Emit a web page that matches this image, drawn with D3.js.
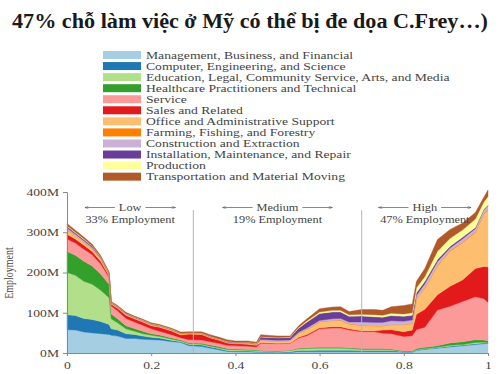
<!DOCTYPE html>
<html>
<head>
<meta charset="utf-8">
<script src="https://cdn.jsdelivr.net/npm/d3@7"></script>
<style>
  body { margin: 0; background: #fff; }
  svg { display: block; }
</style>
</head>
<body>
<script>
const width = 500
const height = 374

// probability of computerisation (x) and employment per group in millions
const xs = [0, 0.02, 0.04, 0.06, 0.08, 0.10, 0.105, 0.12, 0.14, 0.16, 0.18, 0.20, 0.22, 0.25, 0.27, 0.29,
  0.32, 0.34, 0.36, 0.38, 0.40, 0.43, 0.45, 0.46, 0.50, 0.53, 0.55, 0.57, 0.60, 0.63, 0.65, 0.67,
  0.70, 0.73, 0.75, 0.77, 0.80, 0.82, 0.83, 0.85, 0.88, 0.91, 0.94, 0.97, 0.99, 1.00]

const management = [58,57,52,50,48,46, 44,42,36,36,34,33,32,28,26,18, 16,12,8,4,3,3,2,2,1,1, 3,3,3,3,3,3,3,3,3,3, 2,2,6,9,12,15,18,21,23,24]
const computer = [37,36,34,33,30,25, 16,15,12,10,8,6,5,3,2,3, 4,3,3,2,2,2,2,1,1,2, 3,3,4,4,4,4,3,3,3,3, 1,1,1,1,1,2,2,2,2,1]
const education = [105,100,92,88,78,66, 25,18,12,8,6,5,4,3,2,2, 2,2,2,3,3,2,2,2,2,3, 4,5,5,5,5,4,3,3,3,2, 1,1,1,1,1,2,1,3,2,1]
const healthcare = [52,50,50,45,40,34, 12,10,8,7,6,4,4,3,2,2, 2,3,3,2,2,2,2,1,1,1, 2,2,2,2,2,2,2,2,2,2, 1,1,3,3,4,6,7,7,5,4]
const service = [31,30,30,28,25,17, 20,20,18,16,15,12,9,8,6,8, 8,8,8,8,8,8,7,18,18,17, 25,30,46,48,48,44,42,42,38,38, 36,38,47,50,89,91,100,107,103,96]
const sales = [12,10,10,8,7,4, 4,6,8,8,8,8,10,9,7,14, 14,10,8,6,5,5,4,2,1,1, 2,3,3,3,3,3,2,2,8,10, 12,14,38,45,38,50,54,70,80,88]
const office = [10,8,7,6,5,3, 2,2,2,2,2,2,2,2,2,1, 1,1,1,1,1,2,2,5,5,5, 10,12,14,15,16,12,13,12,10,12, 17,16,38,52,71,87,92,89,130,141]
const farming = [2,1,1,1,1,1, 0.5,0.5,0.5,0.5,0.5,0.5,0.5,0.5,0.5,0.5, 0.5,0.5,0.5,0.5,0.5,0.5,0.5,0.5,0.5,0.5, 0.5,1,1,1,1,1,1,1,1,1, 1,1,1,2,2,2,2,2,2,2]
const construction = [4,3,3,3,2,1, 1,1,1,1,1,1,1,1,1,1, 1,1,1,1,1,1,1,2,2,2, 2,3,3,4,4,4,8,8,8,9, 8,8,8,9,9,6,8,8,8,9]
const installation = [4,3,3,3,2,1, 1,1,1,1,1,1,1,1,1,0.5, 0.5,0.5,0.5,1,1,1,1,6,6,6, 10,15,17,17,16,14,15,14,13,13, 12,12,7,6,5,4,4,3,2,2]
const production = [2,2,2,1,1,1, 0.5,0.5,0.5,0.5,0.5,0.5,0.5,0.5,0.5,0.5, 0.5,0.5,0.5,0.5,0.5,0.5,0.5,1,1,1, 2,3,4,4,4,4,4,5,5,6, 6,6,12,12,21,20,18,21,18,21]
const transportation = [5,5,4,4,3,2, 2,2,2,2,2,2,2,2,2,2, 3,4,4,4,3,3,3,5,4,3, 4,5,8,8,9,8,12,13,12,16, 21,22,16,20,29,22,17,16,12,16]

const categories = [
  'Management, Business, and Financial',
  'Computer, Engineering, and Science',
  'Education, Legal, Community Service, Arts, and Media',
  'Healthcare Practitioners and Technical',
  'Service',
  'Sales and Related',
  'Office and Administrative Support',
  'Farming, Fishing, and Forestry',
  'Construction and Extraction',
  'Installation, Maintenance, and Repair',
  'Production',
  'Transportation and Material Moving'
]
const series = [management, computer, education, healthcare, service, sales, office,
  farming, construction, installation, production, transportation]
const colors = ['#a6cee3', '#1f78b4', '#b2df8a', '#33a02c', '#fb9a99', '#e31a1c',
  '#fdbf6f', '#ff7f00', '#cab2d6', '#6a3d9a', '#ffff99', '#b15928']

const zones = ['Low', 'Medium', 'High']
const shares = ['33% Employment', '19% Employment', '47% Employment']
const zoneCenters = [0.15, 0.5, 0.85]
const boundaries = [0.3, 0.7]
const xTicks = [0, 0.2, 0.4, 0.6, 0.8, 1]
const yTicks = [0, 100, 200, 300, 400]

const serif = '"Liberation Serif", "Times New Roman", serif'
const stretch = 1.3 // the picture is wider than tall, text looks stretched

const rows = xs.map((x, i) => {
  const r = { x: x }
  categories.forEach((c, j) => { r[c] = series[j][i] })
  return r
})

const x = d3.scaleLinear().domain([0, 1]).range([67, 488])
const y = d3.scaleLinear().domain([0, 400]).range([353, 192])
const color = d3.scaleOrdinal().domain(categories).range(colors)

const svg = d3.select('body').append('svg').attr('width', width).attr('height', height)

// title
svg.append('text')
  .attr('x', 250).attr('y', 28)
  .attr('text-anchor', 'middle')
  .attr('textLength', 476)
  .attr('lengthAdjust', 'spacingAndGlyphs')
  .style('font-family', serif)
  .style('font-weight', 'bold')
  .style('font-size', '22px')
  .style('fill', '#1a1a1a')
  .text('47% chỗ làm việc ở Mỹ có thể bị đe dọa C.Frey…)')

// legend
const legend = svg.append('g')
categories.forEach((c, i) => {
  const cy = 55 + i * 11.06
  legend.append('rect')
    .attr('x', 103).attr('y', cy - 4)
    .attr('width', 38).attr('height', 8)
    .attr('fill', color(c))
  legend.append('text')
    .attr('transform', `translate(146,${cy + 3.6}) scale(${stretch},1)`)
    .style('font-family', serif)
    .style('font-size', '10.5px')
    .style('fill', '#444')
    .text(c)
})

// stacked areas
const stack = d3.stack().keys(categories)
const layers = stack(rows)
const area = d3.area()
  .x(d => x(d.data.x))
  .y0(d => y(d[0]))
  .y1(d => y(d[1]))

svg.append('g')
  .selectAll('path')
  .data(layers)
  .join('path')
  .attr('d', area)
  .attr('fill', d => color(d.key))
  .attr('stroke', d => color(d.key))
  .attr('stroke-width', 0.4)

// divider lines
svg.append('g')
  .selectAll('line')
  .data(boundaries)
  .join('line')
  .attr('x1', d => x(d)).attr('x2', d => x(d))
  .attr('y1', 210).attr('y2', y(0))
  .attr('stroke', '#b5b5b5')
  .attr('stroke-width', 1)

// axes
const xAxis = svg.append('g')
  .attr('transform', `translate(0,${y(0)})`)
  .call(d3.axisBottom(x).tickValues(xTicks).tickFormat(d3.format('')).tickSize(3).tickPadding(3))
const yAxis = svg.append('g')
  .attr('transform', `translate(${x(0)},0)`)
  .call(d3.axisLeft(y).tickValues(yTicks).tickFormat(d => d + 'M').tickSize(4).tickPadding(4))

;[xAxis, yAxis].forEach(a => {
  a.select('.domain').attr('stroke', '#888')
  a.selectAll('.tick line').attr('stroke', '#888')
  a.selectAll('text')
    .style('font-family', serif)
    .style('font-size', '10.5px')
    .style('fill', '#444')
    .attr('transform', `scale(${stretch},1)`)
})
xAxis.selectAll('text').attr('dy', '0.95em')
yAxis.selectAll('text').attr('x', -8 / stretch)

svg.append('text')
  .attr('transform', `translate(13,273) rotate(-90) scale(1,${stretch})`)
  .attr('text-anchor', 'middle')
  .style('font-family', serif)
  .style('font-size', '10px')
  .style('fill', '#444')
  .text('Employment')

// zone annotations with arrows
const defs = svg.append('defs')
defs.append('marker')
  .attr('id', 'arrow')
  .attr('viewBox', '0 0 8 6')
  .attr('refX', 8).attr('refY', 3)
  .attr('markerWidth', 6).attr('markerHeight', 4)
  .attr('orient', 'auto')
  .append('path')
  .attr('d', 'M0,0 L8,3 L0,6')
  .attr('fill', 'none')
  .attr('stroke', '#555')
  .attr('stroke-width', 1)

zones.forEach((z, i) => {
  const cx = x(zoneCenters[i])
  const label = svg.append('text')
    .attr('transform', `translate(${cx},211) scale(${stretch},1)`)
    .attr('text-anchor', 'middle')
    .style('font-family', serif)
    .style('font-size', '9.5px')
    .style('fill', '#444')
    .text(z)
  svg.append('text')
    .attr('transform', `translate(${cx},222.5) scale(${stretch},1)`)
    .attr('text-anchor', 'middle')
    .style('font-family', serif)
    .style('font-size', '9.5px')
    .style('fill', '#444')
    .text(shares[i])

  const half = label.node().getComputedTextLength() * stretch / 2
  ;[-1, 1].forEach(s => {
    svg.append('line')
      .attr('x1', cx + s * (half + 4)).attr('x2', cx + s * (half + 34))
      .attr('y1', 207.5).attr('y2', 207.5)
      .attr('stroke', '#555')
      .attr('stroke-width', 0.7)
      .attr('marker-end', 'url(#arrow)')
  })
})
</script>
</body>
</html>
